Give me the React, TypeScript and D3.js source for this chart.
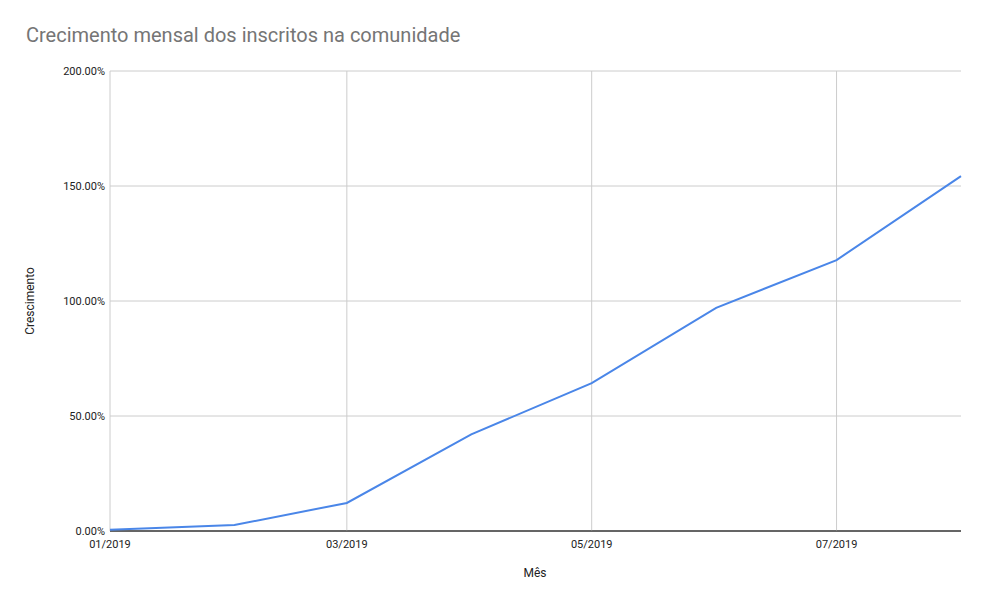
import React from 'react';
import * as d3 from 'd3';

const months = ['2019-01-01', '2019-02-01', '2019-03-01', '2019-04-01', '2019-05-01', '2019-06-01', '2019-07-01', '2019-08-01'];
const growth = [0.5, 2.6, 12.2, 42, 64.3, 97, 117.8, 154.3];
const yTicks = [0, 50, 100, 150, 200];
const xTicks = ['2019-01-01', '2019-03-01', '2019-05-01', '2019-07-01'];

const W = 988, H = 590;
const margin = { top: 71, right: 27, bottom: 59, left: 110 };

const App: React.FC = () => {
  const parse = d3.timeParse('%Y-%m-%d');
  const dates = months.map((m) => parse(m)!);
  const x = d3.scaleTime().domain([dates[0], dates[dates.length - 1]]).range([margin.left, W - margin.right]);
  const y = d3.scaleLinear().domain([0, 200]).range([H - margin.bottom, margin.top]);
  const fmt = d3.timeFormat('%m/%Y');
  const line = d3.line<number>().x((_, i) => x(dates[i])).y((d) => y(d));
  const font = 'Roboto, Arial, sans-serif';

  return (
    <svg width={W} height={H} style={{ position: 'absolute', left: 0, top: 0, background: '#fff' }} fontFamily={font}>
      <text x={26} y={42} fontSize={20} fill="#757575">Crecimento mensal dos inscritos na comunidade</text>
      {yTicks.map((t) => (
        <g key={t}>
          <line x1={margin.left} x2={W - margin.right} y1={y(t)} y2={y(t)} stroke={t === 0 ? '#333' : '#ccc'} />
          <text x={margin.left - 5} y={y(t) + 4} fontSize={11} textAnchor="end" fill="#222">{t.toFixed(2)}%</text>
        </g>
      ))}
      {xTicks.map((t) => {
        const d = parse(t)!;
        return (
          <g key={t}>
            <line x1={x(d)} x2={x(d)} y1={margin.top} y2={H - margin.bottom} stroke="#ccc" />
            <text x={x(d)} y={H - margin.bottom + 17} fontSize={11} textAnchor="middle" fill="#222">{fmt(d)}</text>
          </g>
        );
      })}
      <line x1={margin.left} x2={W - margin.right} y1={y(0)} y2={y(0)} stroke="#333" />
      <path d={line(growth)!} fill="none" stroke="#4a86e8" strokeWidth={2} />
      <text x={535} y={577} fontSize={12} textAnchor="middle" fill="#222">Mês</text>
      <text transform={`translate(34,${(margin.top + H - margin.bottom) / 2}) rotate(-90)`} fontSize={12} textAnchor="middle" fill="#222">Crescimento</text>
    </svg>
  );
};

export default App;
